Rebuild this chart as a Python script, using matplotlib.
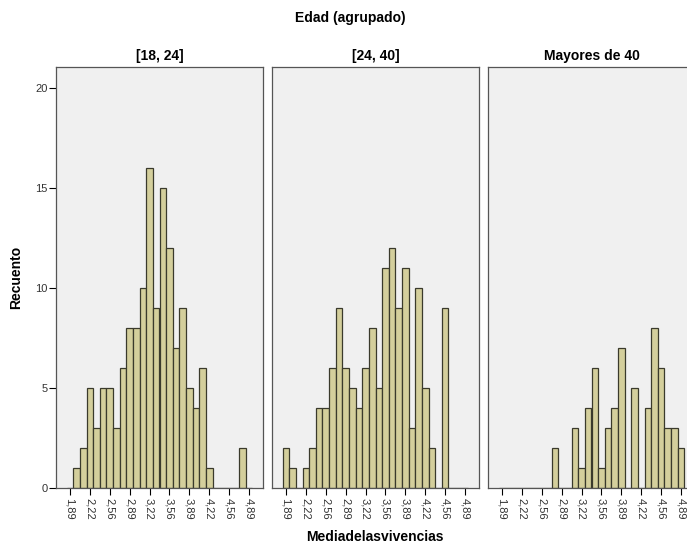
import matplotlib
matplotlib.use("Agg")
import matplotlib.pyplot as plt
import numpy as np

plt.rcParams["font.family"] = ["Liberation Sans", "DejaVu Sans"]

# bins are means on a k/9 grid; counts
K = np.arange(17, 45)  # 17/9 = 1.89 ... 44/9 = 4.89
GROUPS = ["[18, 24]", "[24, 40]", "Mayores de 40"]
COUNTS = {
    "[18, 24]": [0, 1, 2, 5, 3, 5, 5, 3, 6, 8, 8, 10, 16, 9, 15, 12, 7, 9,
                 5, 4, 6, 1, 0, 0, 0, 0, 2, 0],
    "[24, 40]": [2, 1, 0, 1, 2, 4, 4, 6, 9, 6, 5, 4, 6, 8, 5, 11, 12, 9,
                 11, 3, 10, 5, 2, 0, 9, 0, 0, 0],
    "Mayores de 40": [0, 0, 0, 0, 0, 0, 0, 0, 2, 0, 0, 3, 1, 4, 6, 1, 3, 4,
                      7, 0, 5, 0, 4, 8, 6, 3, 3, 2],
}
TICKS = [17, 20, 23, 26, 29, 32, 35, 38, 41, 44]
TICK_LABELS = ["1,89", "2,22", "2,56", "2,89", "3,22", "3,56", "3,89",
               "4,22", "4,56", "4,89"]

W, H = 687, 545
fig = plt.figure(figsize=(W / 100, H / 100), dpi=100)

lefts = [56, 272, 488]
pw, top, bot = 207, 67, 488
centers = K / 9
for i, (g, x0) in enumerate(zip(GROUPS, lefts)):
    ax = fig.add_axes([x0 / W, (H - bot) / H, pw / W, (bot - top) / H])
    ax.set_facecolor("#f0f0f0")
    ax.bar(centers, COUNTS[g], width=1 / 9, color="#d4cf9c",
           edgecolor="#3a3a2c", linewidth=0.9)
    ax.set_xlim(17 / 9 - 14 / 60, 44 / 9 + 14 / 60)
    ax.set_ylim(0, 21.05)
    ax.set_xticks([t / 9 for t in TICKS])
    ax.set_xticklabels(TICK_LABELS, rotation=-90, fontsize=8, color="#333333")
    ax.tick_params(axis="x", length=5, width=0.8, pad=2)
    if i == 0:
        ax.set_yticks([0, 5, 10, 15, 20])
        ax.tick_params(axis="y", length=5, width=0.8, labelsize=8,
                       labelcolor="#333333", pad=1)
        ax.set_ylabel("Recuento", fontsize=10, fontweight="bold", labelpad=9)
    else:
        ax.set_yticks([])
    for s in ax.spines.values():
        s.set_color("#555555")
        s.set_linewidth(0.9)
    ax.set_title(g, fontsize=10, fontweight="bold", pad=5)

fig.text(350 / W, 1 - 18 / H, "Edad (agrupado)", ha="center", va="center",
         fontsize=10, fontweight="bold")
fig.text(375 / W, 1 - 537 / H, "Mediadelasvivencias", ha="center",
         va="center", fontsize=10, fontweight="bold")

fig.savefig("out.png", dpi=100)
